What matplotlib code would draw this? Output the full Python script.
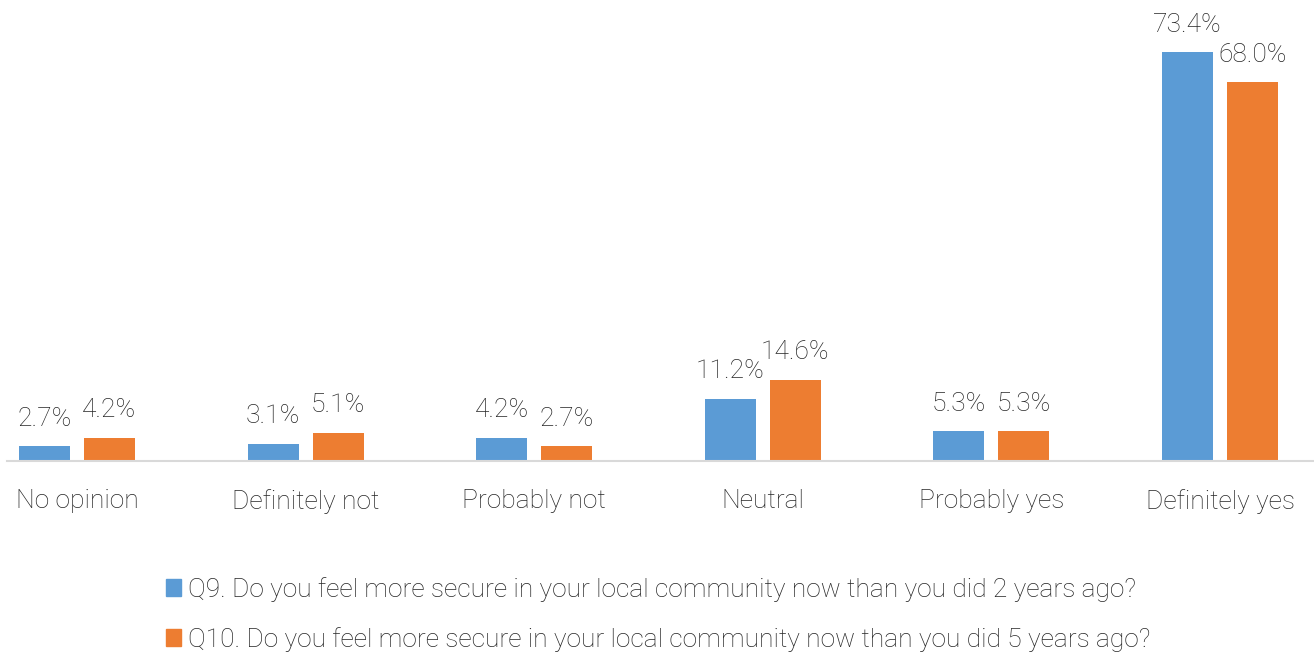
import matplotlib.pyplot as plt
import matplotlib.patches as mpatches
import numpy as np

plt.rcParams['font.family'] = ['Roboto', 'DejaVu Sans']
plt.rcParams['font.weight'] = 'light'

categories = ["No opinion", "Definitely not", "Probably not", "Neutral",
              "Probably yes", "Definitely yes"]
q9 = [2.7, 3.1, 4.2, 11.2, 5.3, 73.4]
q10 = [4.2, 5.1, 2.7, 14.6, 5.3, 68.0]
series_labels = [
    "Q9. Do you feel more secure in your local community now than you did 2 years ago?",
    "Q10. Do you feel more secure in your local community now than you did 5 years ago?",
]

BLUE = "#5B9BD5"
ORANGE = "#ED7D31"
TEXT = "#262626"

W, H = 1314, 653
fig = plt.figure(figsize=(W / 100, H / 100), dpi=100)
# plot area: baseline at y=461px, axis line from x=7px
ax = fig.add_axes([7 / W, (H - 461) / H, 1 - 7 / W, 461 / H])

x = np.arange(len(categories))
bw = 0.223
off = 0.142
b1 = ax.bar(x - off, q9, bw, color=BLUE)
b2 = ax.bar(x + off, q10, bw, color=ORANGE)

for bars, vals in ((b1, q9), (b2, q10)):
    for rect, v in zip(bars, vals):
        ax.annotate(f"{v:.1f}%", (rect.get_x() + rect.get_width() / 2, v),
                    xytext=(0, 11), textcoords="offset points",
                    ha="center", va="bottom", fontsize=19, color=TEXT)

ax.set_xlim(-0.306, 5.411)
ax.set_ylim(0, 82.7)
ax.set_xticks(x)
ax.set_xticklabels(categories, fontsize=19, color=TEXT)
ax.tick_params(axis="x", length=0, pad=20)
ax.set_yticks([])
for s in ("top", "left", "right"):
    ax.spines[s].set_visible(False)
ax.spines["bottom"].set_color("#D9D9D9")
ax.spines["bottom"].set_linewidth(1.5)

handles = [mpatches.Patch(color=BLUE), mpatches.Patch(color=ORANGE)]
fig.legend(handles, series_labels, loc="upper left",
           bbox_to_anchor=(166 / W, 1 - 577 / H), frameon=False,
           fontsize=19, labelcolor=TEXT, handlelength=0.55, handleheight=0.6,
           handletextpad=0.3, labelspacing=0.95, borderpad=0,
           borderaxespad=0)

fig.savefig("out.png", dpi=100)
